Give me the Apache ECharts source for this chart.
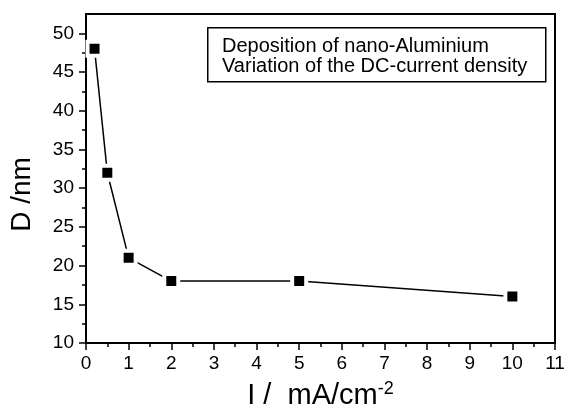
<!DOCTYPE html>
<html>
<head>
<meta charset="utf-8">
<script src="https://cdn.jsdelivr.net/npm/echarts@6/dist/echarts.min.js"></script>
<style>
html,body{margin:0;padding:0;background:#fff;}
#chart{width:569px;height:409px;}
</style>
</head>
<body>
<div id="chart"></div>
<script>
// Data
const currentDensity = [0.2, 0.5, 1, 2, 5, 10];      // I / mA cm^-2
const grainSize = [48, 32, 21, 18, 18, 16];           // D / nm
const yMajorTicks = [10, 15, 20, 25, 30, 35, 40, 45, 50];
const yMinorTicks = [12.5, 17.5, 22.5, 27.5, 32.5, 37.5, 42.5, 47.5];
const legendLines = ['Deposition of nano-Aluminium', 'Variation of the DC-current density'];
const xTitle = 'I /  mA/cm';
const xTitleSup = '-2';
const yTitle = 'D /nm';

const FONT = 'Liberation Sans, Arial, sans-serif';
const chart = echarts.init(document.getElementById('chart'), null, {renderer: 'canvas'});

const option = {
  backgroundColor: '#fff',
  animation: false,
  grid: {
    left: 86, right: 14, top: 14, bottom: 66,
    containLabel: false, outerBoundsMode: 'none',
    show: true, borderColor: '#000', borderWidth: 2, backgroundColor: 'transparent'
  },
  xAxis: {
    type: 'value', min: 0, max: 11, interval: 1,
    name: '{m|' + xTitle + '}{s|' + xTitleSup + '}',
    nameLocation: 'middle', nameGap: 37,
    nameTextStyle: {
      rich: {
        m: {fontFamily: FONT, fontSize: 29, color: '#000', verticalAlign: 'bottom', lineHeight: 30},
        s: {fontFamily: FONT, fontSize: 18, color: '#000', verticalAlign: 'top', lineHeight: 30, padding: [0,0,10,0]}
      }
    },
    axisLine: {show: true, lineStyle: {color: '#000', width: 2}},
    axisTick: {show: true, inside: false, length: 7, lineStyle: {color: '#000', width: 1.5}},
    minorTick: {show: true, splitNumber: 2, length: 4, lineStyle: {color: '#000', width: 1.5}},
    axisLabel: {fontFamily: FONT, fontSize: 19, color: '#000', margin: 11},
    splitLine: {show: false}
  },
  yAxis: [{
    type: 'value', min: 10, max: 52.5, position: 'left',
    name: yTitle, nameLocation: 'middle', nameGap: 50,
    nameTextStyle: {fontFamily: FONT, fontSize: 28, color: '#000', padding: [0, 32, 0, 0]},
    axisLine: {show: true, lineStyle: {color: '#000', width: 2}},
    axisTick: {show: true, inside: false, length: 7, customValues: yMajorTicks, lineStyle: {color: '#000', width: 1.5}},
    axisLabel: {fontFamily: FONT, fontSize: 19, color: '#000', margin: 12, customValues: yMajorTicks},
    splitLine: {show: false}
  }, {
    type: 'value', min: 10, max: 52.5, position: 'left', offset: 0,
    axisLine: {show: false},
    axisTick: {show: true, inside: false, length: 4, customValues: yMinorTicks, lineStyle: {color: '#000', width: 1.5}},
    axisLabel: {show: false},
    splitLine: {show: false}
  }],
  graphic: [{
    type: 'rect', left: 207, top: 27, z: 10,
    shape: {width: 338, height: 54},
    style: {fill: '#fff', stroke: '#000', lineWidth: 1.5}
  }, {
    type: 'text', left: 222, top: 36, z: 11,
    style: {text: legendLines.join('\n'), font: '20px ' + FONT, fill: '#000', lineHeight: 20}
  }],
  series: [{
    type: 'line',
    data: currentDensity.map((x, i) => [x, grainSize[i]]),
    symbol: 'rect', symbolSize: 14,
    lineStyle: {color: '#000', width: 1.5},
    itemStyle: {color: '#000', borderColor: '#fff', borderWidth: 4},
    z: 5
  }]
};
chart.setOption(option);
</script>
</body>
</html>
